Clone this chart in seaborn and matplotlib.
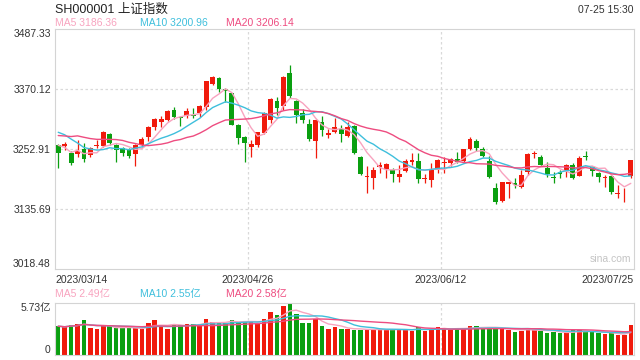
# -*- coding: utf-8 -*-
"""
Daily K-line chart of the SSE Composite (SH000001) with MA5/MA10/MA20
and a volume panel underneath, styled like the sina.com quote chart.
"""

import numpy as np
import pandas as pd
import matplotlib
matplotlib.use("Agg")
import matplotlib.pyplot as plt
import seaborn as sns

# Trading days shown on the chart
trade_days = {
    "03": [14, 15, 16, 17, 20, 21, 22, 23, 24, 27, 28, 29, 30, 31],
    "04": [3, 4, 6, 7, 10, 11, 12, 13, 14, 17, 18, 19, 20, 21, 24, 25, 26, 27, 28],
    "05": [4, 5, 8, 9, 10, 11, 12, 15, 16, 17, 18, 19, 22, 23, 24, 25, 26, 29, 30, 31],
    "06": [1, 2, 5, 6, 7, 8, 9, 12, 13, 14, 15, 16, 19, 20, 21, 26, 27, 28, 29, 30],
    "07": [3, 4, 5, 6, 7, 10, 11, 12, 13, 14, 17, 18, 19, 20, 21, 24, 25],
}
dates = ["2023/%s/%02d" % (m, d) for m, days in trade_days.items() for d in days]

opens = [3261, 3260, 3246, 3244, 3253, 3242, 3259, 3260, 3282, 3261,
         3255, 3253, 3243, 3262, 3276, 3297, 3306, 3311, 3330, 3316,
         3317, 3320, 3323, 3336, 3381, 3392, 3371, 3362, 3300, 3276,
         3257, 3262, 3285, 3310, 3348, 3338, 3401, 3348, 3323, 3302,
         3270, 3307, 3281, 3287, 3292, 3278, 3298, 3238, 3198, 3197,
         3219, 3215, 3213, 3199, 3211, 3229, 3230, 3194, 3193, 3213,
         3227, 3226, 3233, 3230, 3254, 3270, 3254, 3230, 3178, 3152,
         3186, 3188, 3180, 3209, 3244, 3238, 3216, 3199, 3208, 3213,
         3222, 3201, 3239, 3218, 3207, 3196, 3201, 3166, 3163, 3200]

highs = [3264, 3268, 3250, 3272, 3266, 3258, 3271, 3288, 3285, 3264,
         3258, 3256, 3263, 3276, 3298, 3315, 3317, 3330, 3335, 3318,
         3333, 3333, 3340, 3386, 3396, 3395, 3372, 3363, 3302, 3279,
         3271, 3287, 3325, 3354, 3356, 3397, 3418, 3350, 3332, 3313,
         3312, 3317, 3293, 3315, 3300, 3307, 3300, 3240, 3220, 3219,
         3229, 3226, 3216, 3222, 3234, 3245, 3246, 3204, 3226, 3233,
         3237, 3236, 3247, 3254, 3277, 3274, 3257, 3240, 3188, 3190,
         3190, 3196, 3212, 3246, 3250, 3242, 3228, 3209, 3212, 3224,
         3226, 3240, 3249, 3221, 3209, 3203, 3203, 3183, 3177, 3232]

lows = [3216, 3252, 3222, 3238, 3228, 3238, 3256, 3258, 3261, 3228,
        3240, 3235, 3220, 3258, 3270, 3290, 3296, 3308, 3312, 3298,
        3315, 3314, 3316, 3330, 3378, 3364, 3346, 3300, 3264, 3229,
        3238, 3258, 3283, 3305, 3320, 3330, 3353, 3305, 3304, 3270,
        3235, 3279, 3275, 3284, 3268, 3276, 3244, 3202, 3168, 3176,
        3206, 3197, 3190, 3189, 3209, 3223, 3188, 3187, 3180, 3206,
        3207, 3220, 3226, 3226, 3252, 3250, 3238, 3196, 3146, 3150,
        3157, 3178, 3178, 3203, 3236, 3220, 3199, 3188, 3196, 3199,
        3194, 3200, 3232, 3201, 3190, 3180, 3166, 3157, 3150, 3196]

closes = [3245.31, 3263.31, 3226.89, 3250.55, 3234.91, 3255.65, 3262.00, 3286.65, 3265.65, 3251.40,
          3245.38, 3240.06, 3261.25, 3272.86, 3296.40, 3312.56, 3312.63, 3327.65, 3315.36, 3313.57,
          3327.18, 3318.36, 3338.15, 3385.61, 3393.33, 3370.13, 3367.55, 3301.26, 3275.41, 3264.87,
          3264.10, 3285.88, 3323.27, 3350.46, 3334.50, 3395.00, 3357.67, 3319.15, 3309.55, 3272.36,
          3310.74, 3290.99, 3284.23, 3297.32, 3283.54, 3296.47, 3246.24, 3204.75, 3201.26, 3212.50,
          3221.45, 3224.21, 3204.56, 3204.63, 3230.07, 3232.44, 3195.34, 3197.76, 3213.59, 3231.41,
          3228.83, 3233.67, 3228.99, 3252.98, 3273.33, 3255.81, 3240.36, 3197.90, 3150.62, 3189.38,
          3189.44, 3182.38, 3202.06, 3243.98, 3245.35, 3222.95, 3205.23, 3196.61, 3203.70, 3221.37,
          3196.13, 3236.48, 3237.70, 3209.63, 3197.82, 3198.84, 3169.52, 3167.75, 3164.16, 3231.52]

# Closes of the 19 sessions before the first shown day (feed the moving averages)
pre_closes = [3280.49, 3249.03, 3224.02, 3290.34, 3306.48, 3291.16, 3287.48, 3267.16,
              3258.03, 3279.61, 3312.35, 3310.65, 3328.39, 3322.03, 3285.10, 3283.25,
              3276.09, 3230.08, 3268.70]

# Volume in 亿
volumes = [3.17, 3.06, 3.32, 3.44, 3.90, 2.94, 2.87, 3.17, 3.17, 2.94,
           2.94, 2.94, 2.94, 2.87, 3.55, 3.90, 3.17, 2.87, 3.32, 3.32,
           3.44, 3.44, 3.25, 4.01, 3.63, 3.51, 3.55, 3.90, 3.63, 3.78,
           3.63, 3.44, 4.01, 4.78, 4.39, 5.35, 5.73, 4.47, 3.55, 3.48,
           3.93, 3.25, 2.87, 3.06, 2.87, 2.87, 2.79, 2.79, 2.79, 2.87,
           2.75, 2.79, 2.79, 2.87, 2.79, 2.67, 3.13, 2.67, 2.87, 3.06,
           2.94, 2.79, 2.87, 2.94, 3.17, 3.25, 2.94, 2.94, 2.94, 2.94,
           2.79, 2.56, 2.64, 3.02, 2.75, 2.67, 2.41, 2.56, 2.41, 2.37,
           2.79, 2.70, 2.62, 2.55, 2.40, 2.29, 2.37, 2.25, 2.18, 3.35]

price_ticks = [3018.48, 3135.69, 3252.91, 3370.12, 3487.33]
price_tick_labels = ["3018.48", "3135.69", "3252.91", "3370.12", "3487.33"]
vol_top = 5.73
vol_tick_labels = ["0", "5.73亿"]
date_labels = ["2023/03/14", "2023/04/26", "2023/06/12", "2023/07/25"]

ma_windows = [5, 10, 20]
ma_price_text = ["MA5 3186.36", "MA10 3200.96", "MA20 3206.14"]
ma_vol_text = ["MA5 2.49亿", "MA10 2.55亿", "MA20 2.58亿"]

# Colours
RED = "#f01a0c"
GREEN = "#0a9f10"
MA_COLORS = ["#f8a3bf", "#3ebfdc", "#ee4c80"]
GRID = "#d9d9d9"
FRAME = "#d4d4d4"
TEXT = "#333333"

# Style
sns.set_style("white")
plt.rcParams["font.family"] = ["Liberation Sans", "Noto Sans CJK SC", "DejaVu Sans"]

df = pd.DataFrame({"date": dates, "open": opens, "high": highs,
                   "low": lows, "close": closes, "volume": volumes})
df["x"] = np.arange(len(df))
df["up"] = df["close"] >= df["open"]
df["color"] = np.where(df["up"], RED, GREEN)

# Moving averages (price uses the earlier closes, volume starts from the first bar)
all_close = pd.Series(pre_closes + closes)
for w in ma_windows:
    df["ma%d" % w] = all_close.rolling(w).mean().iloc[len(pre_closes):].values
    df["vma%d" % w] = df["volume"].rolling(w, min_periods=1).mean()

# Figure with pixel based axes placement
W, H = 640, 360
fig = plt.figure(figsize=(W / 100, H / 100), dpi=100)


def box(left, top, right, bottom):
    return [left / W, 1 - bottom / H, (right - left) / W, (bottom - top) / H]


ax = fig.add_axes(box(55, 29.3, 634, 269.3))
axv = fig.add_axes(box(55, 303, 634, 355))

n = len(df)
for a in (ax, axv):
    a.set_xlim(-0.5, n - 0.5)
    for s in a.spines.values():
        s.set_color(FRAME)
        s.set_linewidth(0.8)
    for gx in (29.5, 59.5):
        a.axvline(gx, color=GRID, lw=0.9, ls=(0, (2, 2)), zorder=0)

# Price panel
ax.set_ylim(price_ticks[0], price_ticks[-1])
for gy in price_ticks[1:-1]:
    ax.axhline(gy, color=GRID, lw=0.9, ls=(0, (2, 2)), zorder=0)

ax.vlines(df["x"], df["low"], df["high"], colors=df["color"], linewidth=0.9, zorder=2)
body_low = np.minimum(df["open"], df["close"])
body_h = np.maximum((df["close"] - df["open"]).abs(), 1.6)
ax.bar(df["x"], body_h, bottom=body_low, width=0.76, color=df["color"],
       linewidth=0, zorder=3)

for w, c in zip(ma_windows, MA_COLORS):
    sns.lineplot(x=df["x"], y=df["ma%d" % w], ax=ax, color=c, linewidth=1.0, zorder=4)

ax.set_yticks(price_ticks)
ax.set_yticklabels(price_tick_labels)
ax.set_xticks([-0.5, 29.5, 59.5, n - 0.5])
ax.set_xticklabels(date_labels)
ax.tick_params(length=0, labelsize=7.5, labelcolor=TEXT)
ax.tick_params(axis="y", pad=3)
ax.tick_params(axis="x", pad=4)
ylabs = ax.get_yticklabels()
ylabs[0].set_va("bottom")
ylabs[-1].set_va("top")
xlabs = ax.get_xticklabels()
xlabs[0].set_ha("left")
xlabs[-1].set_ha("right")
ax.set_xlabel("")
ax.set_ylabel("")

ax.text(0.995, 0.045, "sina.com", transform=ax.transAxes, ha="right", va="center",
        fontsize=7.5, color="#c4c4c4")

# Volume panel
axv.set_ylim(0, vol_top)
axv.bar(df["x"], df["volume"], width=0.7, color=df["color"], linewidth=0, zorder=2)
for w, c in zip(ma_windows, MA_COLORS):
    sns.lineplot(x=df["x"], y=df["vma%d" % w], ax=axv, color=c, linewidth=1.0, zorder=4)
axv.set_yticks([0, vol_top])
axv.set_yticklabels(vol_tick_labels)
axv.set_xticks([])
axv.tick_params(length=0, labelsize=7.5, labelcolor=TEXT, pad=3)
vlabs = axv.get_yticklabels()
vlabs[0].set_va("bottom")
vlabs[-1].set_va("top")
axv.set_xlabel("")
axv.set_ylabel("")

# Header texts
fig.text(55 / W, 1 - 10 / H, "SH000001 上证指数", fontsize=9, va="center", color="#222222")
fig.text(634 / W, 1 - 10 / H, "07-25 15:30", fontsize=7.5, ha="right", va="center", color=TEXT)
for xpos, txt, c in zip([55, 140, 226], ma_price_text, MA_COLORS):
    fig.text(xpos / W, 1 - 23 / H, txt, fontsize=7.5, va="center", color=c)
for xpos, txt, c in zip([55, 140, 226], ma_vol_text, MA_COLORS):
    fig.text(xpos / W, 1 - 294 / H, txt, fontsize=7.5, va="center", color=c)

fig.savefig("out.png", dpi=100)
